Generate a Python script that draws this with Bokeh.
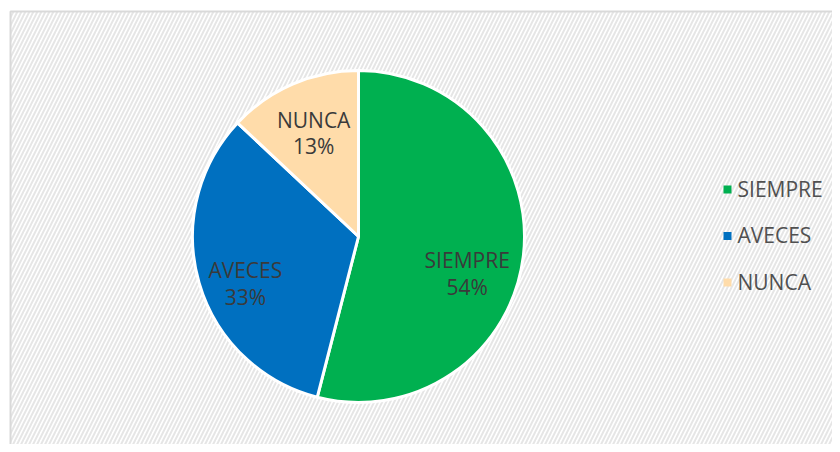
import math
from bokeh.plotting import figure
from bokeh.models import ColumnDataSource, Range1d
from bokeh.core.properties import value
from bokeh.embed import file_html
from bokeh.resources import INLINE

# ---- data ----
categories = ["SIEMPRE", "AVECES", "NUNCA"]
percents = [54, 33, 13]
colors = ["#00B050", "#0070C0", "#FFDCAA"]

# ---- layout ----
W, H = 832, 444
CX, CY, R = 358, 208, 166
label_frac = [0.66, 0.71, 0.68]
label_dy = [-23, -14, 0]
FONT = "Open Sans"

p = figure(width=W, height=H, output_backend="svg", toolbar_location=None,
           x_range=Range1d(0, W), y_range=Range1d(0, H), min_border=0,
           outline_line_color=None)
p.axis.visible = False
p.grid.visible = False
p.background_fill_color = "white"
p.border_fill_color = "white"

# chart area with hatched background
p.quad(left=[10], right=[W + 40], bottom=[-40], top=[H - 11],
       fill_color="white", hatch_pattern="right_diagonal_line",
       hatch_color="#E6E6E6", hatch_scale=8, hatch_weight=2,
       line_color=None)
# border (top and left edges visible)
p.line(x=[10, 10, W + 40], y=[-40, H - 11, H - 11],
       line_color="#D9D9D9", line_width=2)

total = sum(percents)
starts, ends, lx, ly, labels = [], [], [], [], []
cum = 0.0
for i, v in enumerate(percents):
    f0 = cum / total
    f1 = (cum + v) / total
    cum += v
    a_end = math.pi / 2 - 2 * math.pi * f0
    a_start = math.pi / 2 - 2 * math.pi * f1
    starts.append(a_start)
    ends.append(a_end)
    mid = (a_start + a_end) / 2
    lx.append(CX + R * label_frac[i] * math.cos(mid))
    ly.append(CY + R * label_frac[i] * math.sin(mid) + label_dy[i])
    labels.append(f"{categories[i]}\n{v}%")

src = ColumnDataSource(dict(start=starts, end=ends, color=colors,
                            x=[CX] * 3, y=[CY] * 3))
p.wedge(x="x", y="y", radius=R, start_angle="start", end_angle="end",
        direction="anticlock", fill_color="color", line_color="white",
        line_width=3, source=src)

p.text(x=lx, y=ly, text=labels, text_font=value(FONT),
       text_font_size="21px", text_color="#3A3A3A",
       text_align="center", text_baseline="middle", text_line_height=0.95)

# legend
leg_x = 727
leg_y = [255 - 46.5 * i for i in range(len(categories))]
p.scatter(x=[leg_x] * 3, y=leg_y, marker="square", size=8,
          fill_color=colors, line_color=None)
p.text(x=[leg_x + 10] * 3, y=[y + 1 for y in leg_y], text=categories,
       text_font=value(FONT), text_font_size="21px", text_color="#505050",
       text_align="left", text_baseline="middle")

open("out.html", "w").write(file_html(p, INLINE))
